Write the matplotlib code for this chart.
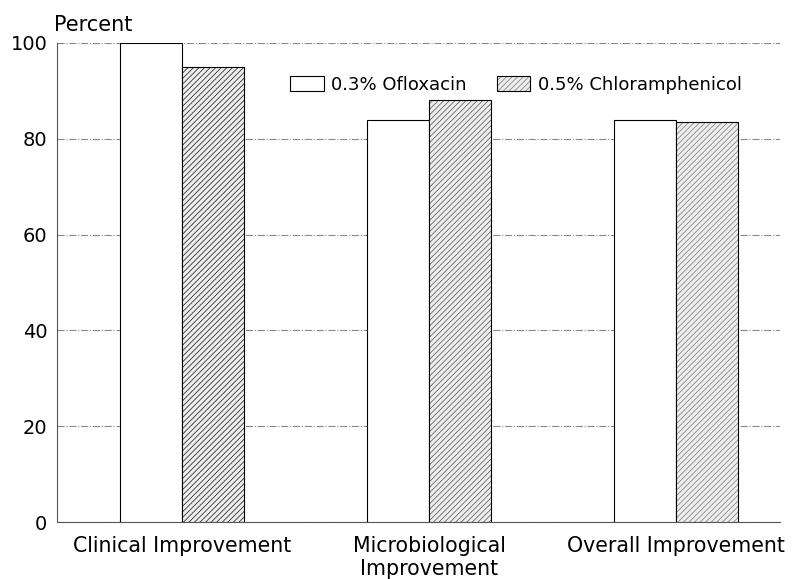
import numpy as np
import matplotlib
matplotlib.use("Agg")
import matplotlib.pyplot as plt

plt.rcParams['font.family'] = ['DejaVu Sans']
plt.rcParams['hatch.linewidth'] = 0.6

categories = ["Clinical Improvement", "Microbiological\nImprovement", "Overall Improvement"]
ofloxacin = [100, 84, 84]
chloramphenicol = [95, 88, 83.5]
series_names = ["0.3% Ofloxacin", "0.5% Chloramphenicol"]
yticks = [0, 20, 40, 60, 80, 100]

fig = plt.figure(figsize=(7.94, 5.79), dpi=100)
ax = fig.add_axes([0.072, 0.098, 0.91, 0.828])

x = np.arange(len(categories))
w = 0.25
hatch_cols = ["#333333", "#666666", "#888888"]

ax.bar(x - w / 2, ofloxacin, w, color="white", edgecolor="black", linewidth=0.8, zorder=3,
       label=series_names[0])
bars = ax.bar(x + w / 2, chloramphenicol, w, color="#eeeeee", edgecolor="black", linewidth=0.8,
              hatch="//////", zorder=3, label=series_names[1])
for b, c in zip(bars, hatch_cols):
    b._hatch_color = matplotlib.colors.to_rgba(c)

ax.set_xlim(-0.506, 2.42)
ax.set_ylim(0, 100)
ax.set_yticks(yticks)
ax.set_xticks(x)
ax.set_xticklabels(categories)
ax.tick_params(axis="y", length=0, labelsize=14, pad=7)
ax.tick_params(axis="x", length=0, labelsize=14.8, pad=10)
for lab in ax.get_xticklabels():
    lab.set_linespacing(1.2)

ax.yaxis.grid(True, color="#888888", linestyle="-.", linewidth=0.8, zorder=0)
ax.spines["top"].set_visible(False)
ax.spines["right"].set_visible(False)
ax.spines["left"].set_color("#555555")
ax.spines["bottom"].set_color("#555555")

ax.text(-0.004, 1.025, "Percent", transform=ax.transAxes, fontsize=15, ha="left", va="baseline")

leg = ax.legend(loc="upper left", bbox_to_anchor=(0.3, 0.965), ncol=2, frameon=False,
                fontsize=13, handlelength=1.85, handleheight=0.85, columnspacing=1.7,
                handletextpad=0.4)
leg.legend_handles[1]._hatch_color = matplotlib.colors.to_rgba("#888888")

fig.savefig("out.png", dpi=100)
